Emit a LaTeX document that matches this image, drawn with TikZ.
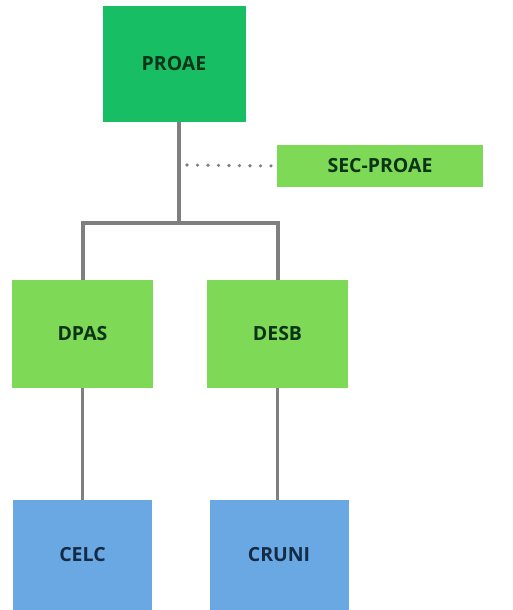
\documentclass[tikz,border=0pt]{standalone}
\usepackage{fontspec}
\setmainfont{Open Sans}
\usetikzlibrary{positioning}

\begin{document}
\begin{tikzpicture}[
				x=1pt, y=-1pt,
				font=\bfseries\fontsize{19.5}{22}\selectfont,
				line join=miter
				]
				% colours
				\definecolor{orgDark}{HTML}{17BE63}
				\definecolor{orgLight}{HTML}{7ED957}
				\definecolor{orgBlue}{HTML}{6AA8E4}
				\definecolor{orgLine}{HTML}{7F7F7F}
				\definecolor{txtGreen}{HTML}{0B3418}
				\definecolor{txtBlue}{HTML}{142B45}
				
				% Style node
				\tikzset{
					dbox/.style={rectangle, fill=orgDark, text=txtGreen, align=center,
						minimum width=143pt, minimum height=116pt, inner sep=0pt},
					lbox/.style={rectangle, fill=orgLight, text=txtGreen, align=center,
						minimum width=141pt, minimum height=108pt, inner sep=0pt},
					cbox/.style={rectangle, fill=orgBlue, text=txtBlue, align=center,
						minimum width=139pt, minimum height=110pt, inner sep=0pt},
					tree/.style={draw=orgLine, line width=4pt},
					dots/.style={draw=orgLine, line width=3.6pt, line cap=round,
						dash pattern=on 0pt off 10.5pt}
				}
				
				\useasboundingbox (0,0) rectangle (512,610);
				
				% ===== Node positions =====
				\node[dbox] (P)  at (174, 64) {PROAE};
				\node[lbox, minimum width=206pt, minimum height=42pt] (SEC) at (380, 166) {SEC-PROAE};
				
				\node[lbox] (L1) at (82.5, 334) {DPAS};
				\node[lbox] (R1) at (277.5, 334) {DESB};
				
				\node[cbox] (L2) at (82.5, 555) {CELC};
				\node[cbox] (R2) at (279, 555) {CRUNI};
				
				\coordinate (J) at (179, 223);
				\coordinate (D) at (187, 165);
				
				% ===== Lines =====
				\draw[tree] ([xshift=5pt]P.south) -- (J);
				\draw[tree] (L1.north) |- (J) -| (R1.north);
				\draw[dots] (D) -- (SEC.west);
				
				\draw[tree, line width=3.5pt] (L1.south) -- (L1.south |- L2.north);
				\draw[tree, line width=3.5pt] (R1.south) -- (R1.south |- R2.north);
				
			\end{tikzpicture}
\end{document}
